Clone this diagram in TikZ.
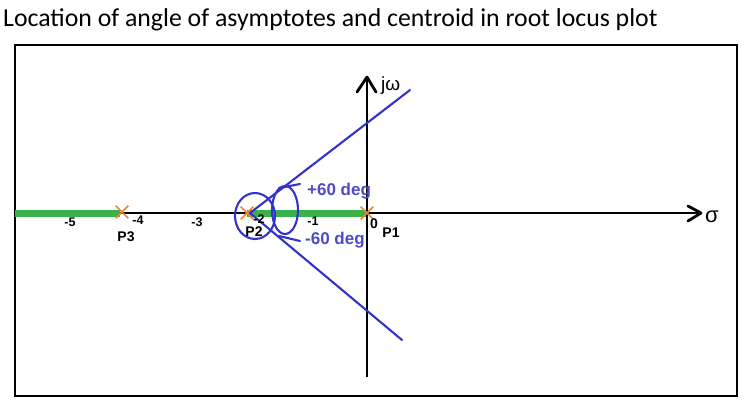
\documentclass[tikz,border=0pt]{standalone}
\usepackage{fontspec}
\setmainfont{Liberation Sans}
\newfontfamily\titlefont{Carlito}
\usetikzlibrary{shapes.misc,calc}
\definecolor{locus}{RGB}{57,178,74}
\definecolor{polecol}{RGB}{240,130,50}
\definecolor{asym}{RGB}{50,50,205}
\definecolor{asymtxt}{RGB}{75,75,200}
\begin{document}
\begin{tikzpicture}[x=1pt,y=-1pt,
  frame/.style={draw=black,line width=2.4pt},
  axis/.style={draw=black,line width=2pt},
  chev/.style={draw=black,line width=2.8pt,line cap=round,line join=round},
  locusline/.style={draw=locus,line width=7pt},
  pole/.style={cross out,draw=polecol,line width=1.7pt,minimum size=11pt,inner sep=0pt},
  asymline/.style={draw=asym,line width=2.1pt,line cap=round},
  tick/.style={font=\fontsize{12.5}{13}\selectfont\bfseries,inner sep=0pt},
  plabel/.style={font=\fontsize{14}{15}\selectfont\bfseries,inner sep=0pt},
  degtxt/.style={text=asymtxt,font=\fontsize{17}{18}\selectfont\bfseries,inner sep=0pt,anchor=west}]
\useasboundingbox (0,0) rectangle (744,405);
% title
\node[anchor=west,inner sep=0pt,font=\titlefont\fontsize{25.8}{27}\selectfont] (title) at (3,20) {Location of angle of asymptotes and centroid in root locus plot};
% frame
\draw[frame] (15,45) rectangle (737,396);
% axes coordinates
\coordinate (xl) at (15,213);
\coordinate (xr) at (701,213);
\coordinate (yt) at (367,77);
\coordinate (yb) at (367,377);
% locus segments
\coordinate (g1a) at (15,213);
\coordinate (g1b) at (120,213);
\coordinate (g2a) at (247,213);
\coordinate (g2b) at (366,213);
\draw[axis] (xl) -- (xr);
\draw[axis] (yb) -- (yt);
\draw[chev] ($(xr)+(-13,-7)$) -- (xr) -- ($(xr)+(-13,8)$);
\draw[chev] ($(yt)+(-10,15)$) -- (yt) -- ($(yt)+(9,15)$);
\node[inner sep=0pt,font=\fontsize{22}{23}\selectfont] (sigma) at (712,217) {σ};
\node[anchor=west,inner sep=0pt,font=\fontsize{19}{20}\selectfont] (jw) at (381,86) {jω};
\draw[locusline] (g1a) -- (g1b);
\draw[locusline] (g2a) -- (g2b);
% asymptotes
\coordinate (cen) at (250,213);
\coordinate (au) at (410,90);
\coordinate (ad) at (402,340);
\draw[asymline] (cen) -- (au);
\draw[asymline] (cen) -- (ad);
% loops
\draw[asymline] (255,216) ellipse [x radius=20,y radius=23];
\draw[asymline] (285,210) ellipse [x radius=13,y radius=24];
\draw[asymline] (279,188) -- (300,184);
\draw[asymline] (279,236) -- (300,241);
% poles
\node[pole] (p1) at (367,213) {};
\node[pole] (p2) at (247,213) {};
\node[pole] (p3) at (122,212) {};
% labels
\node[plabel] (lp1) at (391,233) {P1};
\node[plabel] (lp2) at (254,232) {P2};
\node[plabel] (lp3) at (126,237) {P3};
\node[tick,font=\fontsize{14}{15}\selectfont\bfseries] (t0) at (374,224) {0};
\node[tick] (t1) at (313,221) {-1};
\node[tick] (t2) at (259,219) {-2};
\node[tick] (t3) at (197,222) {-3};
\node[tick] (t4) at (138,220) {-4};
\node[tick] (t5) at (70,222) {-5};
\node[degtxt] (pd) at (307,191) {+60 deg};
\node[degtxt] (md) at (305,240) {-60 deg};
\end{tikzpicture}
\end{document}
